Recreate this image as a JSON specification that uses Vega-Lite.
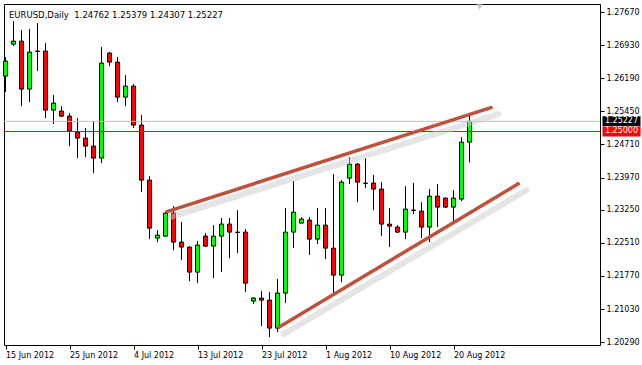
{
  "$schema": "https://vega.github.io/schema/vega-lite/v6.json",
  "width": 596,
  "height": 341,
  "autosize": {"type": "none"},
  "padding": {"left": 4, "top": 4, "right": 42, "bottom": 20},
  "background": "#ffffff",
  "config": {
    "view": {"stroke": "#000000", "strokeWidth": 1},
    "font": "DejaVu Sans"
  },
  "title": {
    "text": "EURUSD,Daily\u00a0\u00a01.24762 1.25379 1.24307 1.25227",
    "anchor": "start", "frame": "group", "orient": "top",
    "offset": -22, "baseline": "alphabetic", "dx": 5,
    "font": "DejaVu Sans", "fontSize": 8.5, "fontWeight": "normal", "color": "#000000"
  },
  "datasets": {
    "candles": [
      {"i":0,"date":"15 Jun 2012","o":1.26239,"h":1.26664,"l":1.25881,"c":1.26574},
      {"i":1,"date":"17 Jun 2012","o":1.26954,"h":1.27469,"l":1.26910,"c":1.27021},
      {"i":2,"date":"18 Jun 2012","o":1.27021,"h":1.27268,"l":1.25568,"c":1.25948},
      {"i":3,"date":"19 Jun 2012","o":1.25948,"h":1.27290,"l":1.25657,"c":1.26776},
      {"i":4,"date":"20 Jun 2012","o":1.26798,"h":1.27424,"l":1.26351,"c":1.26790},
      {"i":5,"date":"21 Jun 2012","o":1.26798,"h":1.26977,"l":1.25299,"c":1.25478},
      {"i":6,"date":"22 Jun 2012","o":1.25478,"h":1.25814,"l":1.25165,"c":1.25635},
      {"i":7,"date":"24 Jun 2012","o":1.25456,"h":1.25568,"l":1.25322,"c":1.25344},
      {"i":8,"date":"25 Jun 2012","o":1.25344,"h":1.25411,"l":1.24673,"c":1.25009},
      {"i":9,"date":"26 Jun 2012","o":1.24986,"h":1.25299,"l":1.24405,"c":1.24852},
      {"i":10,"date":"27 Jun 2012","o":1.24852,"h":1.25076,"l":1.24427,"c":1.24673},
      {"i":11,"date":"28 Jun 2012","o":1.24673,"h":1.25232,"l":1.24069,"c":1.24405},
      {"i":12,"date":"29 Jun 2012","o":1.24405,"h":1.26887,"l":1.24293,"c":1.26530},
      {"i":13,"date":"1 Jul 2012","o":1.26753,"h":1.26776,"l":1.26462,"c":1.26552},
      {"i":14,"date":"2 Jul 2012","o":1.26552,"h":1.26664,"l":1.25657,"c":1.25769},
      {"i":15,"date":"3 Jul 2012","o":1.25769,"h":1.26261,"l":1.25568,"c":1.26015},
      {"i":16,"date":"4 Jul 2012","o":1.26015,"h":1.26060,"l":1.25076,"c":1.25143},
      {"i":17,"date":"5 Jul 2012","o":1.25143,"h":1.25367,"l":1.23645,"c":1.23913},
      {"i":18,"date":"6 Jul 2012","o":1.23913,"h":1.24002,"l":1.22593,"c":1.22839},
      {"i":19,"date":"8 Jul 2012","o":1.22616,"h":1.22795,"l":1.22526,"c":1.22683},
      {"i":20,"date":"9 Jul 2012","o":1.22660,"h":1.23197,"l":1.22650,"c":1.23175},
      {"i":21,"date":"10 Jul 2012","o":1.23175,"h":1.23331,"l":1.22347,"c":1.22526},
      {"i":22,"date":"11 Jul 2012","o":1.22526,"h":1.22974,"l":1.22124,"c":1.22415},
      {"i":23,"date":"12 Jul 2012","o":1.22415,"h":1.22430,"l":1.21654,"c":1.21855},
      {"i":24,"date":"13 Jul 2012","o":1.21855,"h":1.22549,"l":1.21609,"c":1.22459},
      {"i":25,"date":"15 Jul 2012","o":1.22660,"h":1.22728,"l":1.22415,"c":1.22437},
      {"i":26,"date":"16 Jul 2012","o":1.22437,"h":1.22906,"l":1.21721,"c":1.22660},
      {"i":27,"date":"17 Jul 2012","o":1.22660,"h":1.23063,"l":1.21855,"c":1.22929},
      {"i":28,"date":"18 Jul 2012","o":1.22929,"h":1.23063,"l":1.22168,"c":1.22750},
      {"i":29,"date":"19 Jul 2012","o":1.22750,"h":1.23242,"l":1.22280,"c":1.22742},
      {"i":30,"date":"20 Jul 2012","o":1.22750,"h":1.22817,"l":1.21408,"c":1.21609},
      {"i":31,"date":"22 Jul 2012","o":1.21207,"h":1.21296,"l":1.21140,"c":1.21274},
      {"i":32,"date":"23 Jul 2012","o":1.21274,"h":1.21430,"l":1.20648,"c":1.21229},
      {"i":33,"date":"24 Jul 2012","o":1.21229,"h":1.21408,"l":1.20402,"c":1.20603},
      {"i":34,"date":"25 Jul 2012","o":1.20603,"h":1.21699,"l":1.20514,"c":1.21386},
      {"i":35,"date":"26 Jul 2012","o":1.21386,"h":1.23287,"l":1.21162,"c":1.22750},
      {"i":36,"date":"27 Jul 2012","o":1.22750,"h":1.23891,"l":1.22392,"c":1.23197},
      {"i":37,"date":"29 Jul 2012","o":1.22951,"h":1.23085,"l":1.22951,"c":1.23041},
      {"i":38,"date":"30 Jul 2012","o":1.23018,"h":1.23085,"l":1.22236,"c":1.22593},
      {"i":39,"date":"31 Jul 2012","o":1.22593,"h":1.23287,"l":1.22482,"c":1.22906},
      {"i":40,"date":"1 Aug 2012","o":1.22906,"h":1.23287,"l":1.22146,"c":1.22392},
      {"i":41,"date":"2 Aug 2012","o":1.22392,"h":1.24047,"l":1.21386,"c":1.21788},
      {"i":42,"date":"3 Aug 2012","o":1.21788,"h":1.23913,"l":1.21632,"c":1.23868},
      {"i":43,"date":"5 Aug 2012","o":1.23958,"h":1.24427,"l":1.23823,"c":1.24271},
      {"i":44,"date":"6 Aug 2012","o":1.24271,"h":1.24293,"l":1.23421,"c":1.23868},
      {"i":45,"date":"7 Aug 2012","o":1.23846,"h":1.24405,"l":1.23734,"c":1.23840},
      {"i":46,"date":"8 Aug 2012","o":1.23846,"h":1.24025,"l":1.23242,"c":1.23712},
      {"i":47,"date":"9 Aug 2012","o":1.23712,"h":1.23868,"l":1.22660,"c":1.22929},
      {"i":48,"date":"10 Aug 2012","o":1.22929,"h":1.23287,"l":1.22415,"c":1.22884},
      {"i":49,"date":"12 Aug 2012","o":1.22862,"h":1.22906,"l":1.22728,"c":1.22750},
      {"i":50,"date":"13 Aug 2012","o":1.22750,"h":1.23779,"l":1.22593,"c":1.23264},
      {"i":51,"date":"14 Aug 2012","o":1.23242,"h":1.23846,"l":1.23152,"c":1.23235},
      {"i":52,"date":"15 Aug 2012","o":1.23220,"h":1.23421,"l":1.22616,"c":1.22862},
      {"i":53,"date":"16 Aug 2012","o":1.22862,"h":1.23712,"l":1.22526,"c":1.23555},
      {"i":54,"date":"17 Aug 2012","o":1.23555,"h":1.23823,"l":1.22862,"c":1.23309},
      {"i":55,"date":"19 Aug 2012","o":1.23510,"h":1.23520,"l":1.23287,"c":1.23309},
      {"i":56,"date":"20 Aug 2012","o":1.23309,"h":1.23689,"l":1.22996,"c":1.23510},
      {"i":57,"date":"21 Aug 2012","o":1.23488,"h":1.24875,"l":1.23443,"c":1.24763},
      {"i":58,"date":"22 Aug 2012","o":1.24762,"h":1.25379,"l":1.24307,"c":1.25227}
    ],
    "levels": [
      {"kind":"bid","p":1.25227,"label":"1.25227"},
      {"kind":"level","p":1.25000,"label":"1.25000"}
    ],
    "trend": [
      {"line":"upper","i":20,"p":1.23197},
      {"line":"upper","i":60.875,"p":1.25545},
      {"line":"lower","i":34,"p":1.20603},
      {"line":"lower","i":64.25,"p":1.23846}
    ],
    "shadow": [
      {"line":"upper","i":20.625,"p":1.23085},
      {"line":"upper","i":61.625,"p":1.25390},
      {"line":"lower","i":34.75,"p":1.20470},
      {"line":"lower","i":65.125,"p":1.23690}
    ],
    "marker": [{"i":59.25,"p":1.27782}]
  },
  "resolve": {"axis": {"x": "independent", "y": "independent"}},
  "layer": [
    {
      "data": {"name": "candles"},
      "mark": {"type": "rule", "color": "#000000", "strokeWidth": 1},
      "encoding": {
        "x": {
          "field": "i", "type": "quantitative",
          "scale": {"domain": [-0.1875, 74.3125], "nice": false, "zero": false, "padding": 0},
          "axis": {
            "title": null, "grid": false, "domain": false,
            "values": [0, 8, 16, 24, 32, 40, 48, 56],
            "labelExpr": "['15 Jun 2012','25 Jun 2012','4 Jul 2012','13 Jul 2012','23 Jul 2012','1 Aug 2012','10 Aug 2012','20 Aug 2012'][round(datum.value/8)]",
            "labelAlign": "left", "labelBaseline": "alphabetic", "labelPadding": 8,
            "tickSize": 4, "tickColor": "#000000", "labelColor": "#000000",
            "labelFont": "DejaVu Sans", "labelFontSize": 8, "labelFlush": false, "labelOverlap": false
          }
        },
        "y": {
          "field": "l", "type": "quantitative",
          "scale": {"domain": [1.2022526, 1.2785136], "nice": false, "zero": false, "padding": 0},
          "axis": {
            "orient": "right", "title": null, "grid": false, "domain": false,
            "values": [1.2029, 1.2103, 1.2177, 1.2251, 1.2325, 1.2397, 1.2471, 1.2545, 1.2619, 1.2693, 1.2767],
            "format": ".5f", "tickSize": 4, "labelPadding": 2,
            "tickColor": "#000000", "labelColor": "#000000",
            "labelFont": "DejaVu Sans", "labelFontSize": 8, "labelFlush": false, "labelOverlap": false
          }
        },
        "y2": {"field": "h"}
      }
    },
    {
      "data": {"name": "candles"},
      "mark": {"type": "bar", "width": 4, "stroke": "#000000", "strokeWidth": 1},
      "encoding": {
        "x": {"field": "i", "type": "quantitative", "axis": null},
        "y": {"field": "o", "type": "quantitative", "axis": null},
        "y2": {"field": "c"},
        "fill": {
          "condition": {"test": "datum.c >= datum.o", "value": "#00ff00"},
          "value": "#ff0000"
        }
      }
    },
    {
      "data": {"name": "levels"},
      "transform": [{"filter": "datum.kind == 'bid'"}],
      "mark": {"type": "rule", "strokeWidth": 1, "color": "#c0c0c0"},
      "encoding": {
        "y": {"field": "p", "type": "quantitative", "axis": null}
      }
    },
    {
      "data": {"name": "levels"},
      "transform": [{"filter": "datum.kind == 'level'"}],
      "mark": {"type": "rule", "strokeWidth": 1, "color": "#ff0000"},
      "encoding": {
        "y": {"field": "p", "type": "quantitative", "axis": null}
      }
    },
    {
      "data": {"name": "shadow"},
      "mark": {"type": "line", "color": "#cccccc", "strokeWidth": 6, "opacity": 0.5, "strokeCap": "round"},
      "encoding": {
        "x": {"field": "i", "type": "quantitative", "axis": null},
        "y": {"field": "p", "type": "quantitative", "axis": null},
        "detail": {"field": "line"}
      }
    },
    {
      "data": {"name": "trend"},
      "mark": {"type": "line", "color": "#c0503c", "strokeWidth": 3.5},
      "encoding": {
        "x": {"field": "i", "type": "quantitative", "axis": null},
        "y": {"field": "p", "type": "quantitative", "axis": null},
        "detail": {"field": "line"}
      }
    },
    {
      "data": {"name": "levels"},
      "transform": [{"filter": "datum.kind == 'bid'"}],
      "mark": {"type": "tick", "orient": "horizontal", "size": 38, "thickness": 10, "opacity": 1, "color": "#000000", "clip": false},
      "encoding": {
        "x": {"datum": 77, "type": "quantitative", "axis": null},
        "y": {"field": "p", "type": "quantitative", "axis": null}
      }
    },
    {
      "data": {"name": "levels"},
      "transform": [{"filter": "datum.kind == 'level'"}],
      "mark": {"type": "tick", "orient": "horizontal", "size": 38, "thickness": 10, "opacity": 1, "color": "#ff0000", "clip": false},
      "encoding": {
        "x": {"datum": 77, "type": "quantitative", "axis": null},
        "y": {"field": "p", "type": "quantitative", "axis": null}
      }
    },
    {
      "data": {"name": "levels"},
      "mark": {"type": "text", "color": "#ffffff", "font": "DejaVu Sans", "fontSize": 8, "align": "center", "baseline": "middle", "clip": false},
      "encoding": {
        "x": {"datum": 77, "type": "quantitative", "axis": null},
        "y": {"field": "p", "type": "quantitative", "axis": null},
        "text": {"field": "label"}
      }
    },
    {
      "data": {"name": "marker"},
      "mark": {"type": "point", "shape": "triangle-down", "filled": true, "color": "#c8c8c8", "size": 40, "opacity": 1},
      "encoding": {
        "x": {"field": "i", "type": "quantitative", "axis": null},
        "y": {"field": "p", "type": "quantitative", "axis": null}
      }
    }
  ]
}
